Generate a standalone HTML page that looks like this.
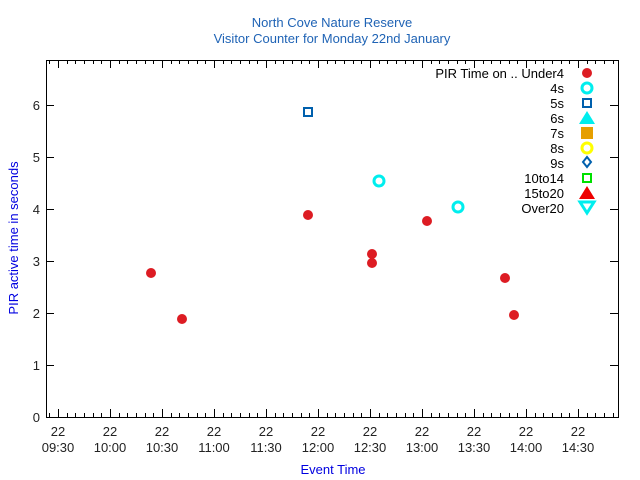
<!DOCTYPE html>
<html><head><style>body{margin:0;background:#fff}svg{display:block}text{font-family:"Liberation Sans",sans-serif;font-size:13px}</style></head>
<body>
<svg id="s" width="640" height="480" xmlns="http://www.w3.org/2000/svg">
<text x="332" y="27" text-anchor="middle" fill="#1f63b5">North Cove Nature Reserve</text>
<text x="332" y="43" text-anchor="middle" fill="#1f63b5">Visitor Counter for Monday 22nd January</text>
<text transform="translate(18,238) rotate(-90)" text-anchor="middle" fill="#0000e0">PIR active time in seconds</text>
<text x="333" y="474" text-anchor="middle" fill="#0000e0">Event Time</text>
<g id="ax" stroke="#000" stroke-width="1" fill="none"></g>
<rect x="46.5" y="60.5" width="572" height="357" fill="none" stroke="#000"/>
<g id="lab" fill="#222"></g>
<g fill="#dd1c23">
<circle cx="151" cy="273" r="5"/><circle cx="182" cy="319" r="5"/><circle cx="308" cy="215" r="5"/>
<circle cx="372" cy="254" r="5"/><circle cx="372" cy="263" r="5"/><circle cx="427" cy="221" r="5"/>
<circle cx="505" cy="278" r="5"/><circle cx="514" cy="315" r="5"/><circle cx="587" cy="73" r="5"/>
</g>
<g fill="none" stroke="#00eeee" stroke-width="3">
<circle cx="379" cy="181" r="5"/><circle cx="458" cy="207" r="5"/><circle cx="587" cy="88" r="5"/>
</g>
<g fill="none" stroke="#0060ad" stroke-width="2">
<rect x="304" y="108" width="8" height="8"/><rect x="583" y="99" width="8" height="8"/>
<path d="M587 157 L591 162 L587 167 L583 162 Z"/>
</g>
<path d="M587 111 L595 124 L579 124 Z" fill="#00eeee"/>
<rect x="581" y="127" width="12" height="12" fill="#e69f00"/>
<circle cx="587" cy="148" r="5" fill="none" stroke="#ffff00" stroke-width="3"/>
<rect x="583" y="174" width="8" height="8" fill="none" stroke="#00e000" stroke-width="2"/>
<path d="M587 186 L595 199 L579 199 Z" fill="#ee0000"/>
<path d="M580 202 L594 202 L587 213 Z" fill="none" stroke="#00eeee" stroke-width="3"/>
<g fill="#000" text-anchor="end">
<text x="564" y="78">PIR Time on .. Under4</text><text x="564" y="93">4s</text><text x="564" y="108">5s</text>
<text x="564" y="123">6s</text><text x="564" y="138">7s</text><text x="564" y="153">8s</text>
<text x="564" y="168">9s</text><text x="564" y="183">10to14</text><text x="564" y="198">15to20</text>
<text x="564" y="213">Over20</text>
</g>
</svg>
<script>
var ns="http://www.w3.org/2000/svg",ax=document.getElementById("ax"),lab=document.getElementById("lab"),d="";
for(var i=0;i<=6;i++){var y=417-52*i+0.5;d+="M46 "+y+"h8M618 "+y+"h-8";
var t=document.createElementNS(ns,"text");t.setAttribute("x",40);t.setAttribute("y",y+4.5);t.setAttribute("text-anchor","end");t.textContent=i;lab.appendChild(t);}
for(var k=-1;k<67;k++){var x=58+k*52/6;if(x<46||x>618)continue;x=Math.round(x)+0.5;
var L=(k%6==0)?8:4;d+="M"+x+" 417v-"+L+"M"+x+" 60v"+L;}
var times=["09:30","10:00","10:30","11:00","11:30","12:00","12:30","13:00","13:30","14:00","14:30"];
for(var j=0;j<11;j++){var x=58+52*j;
var a=document.createElementNS(ns,"text");a.setAttribute("x",x);a.setAttribute("y",436);a.setAttribute("text-anchor","middle");a.textContent="22";lab.appendChild(a);
var b=document.createElementNS(ns,"text");b.setAttribute("x",x);b.setAttribute("y",452);b.setAttribute("text-anchor","middle");b.textContent=times[j];lab.appendChild(b);}
var p=document.createElementNS(ns,"path");p.setAttribute("d",d);ax.appendChild(p);
</script>
</body></html>
